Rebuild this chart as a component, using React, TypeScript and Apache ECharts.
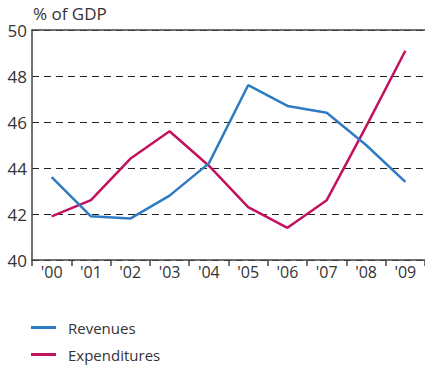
import React, { useEffect, useRef } from "react";
import * as echarts from "echarts";

const categories = ["'00", "'01", "'02", "'03", "'04", "'05", "'06", "'07", "'08", "'09"];
const revenues = [43.6, 41.9, 41.8, 42.8, 44.2, 47.6, 46.7, 46.4, 45.0, 43.4];
const expenditures = [41.9, 42.6, 44.4, 45.6, 44.1, 42.3, 41.4, 42.6, 45.8, 49.1];
const yTitle = "% of GDP";

const FONT = "'Open Sans', 'Noto Sans', sans-serif";
const TEXT = "#333";
const AXIS = "#444";

const legendBase = {
  orient: "vertical",
  left: 31,
  padding: 0,
  icon: "rect",
  itemWidth: 25,
  itemHeight: 3,
  textStyle: { fontFamily: FONT, fontSize: 15, color: TEXT, padding: [0, 0, 0, 7] },
};

export default function App() {
  const ref = useRef<HTMLDivElement>(null);
  useEffect(() => {
    const chart = echarts.init(ref.current!, null, { renderer: "svg" });
    chart.setOption({
      animation: false,
      textStyle: { fontFamily: FONT },
      grid: { left: 32, right: -2, top: 30, bottom: 105, containLabel: false },
      legend: [
        { ...legendBase, top: 320, data: ["Revenues"] },
        { ...legendBase, top: 347, data: ["Expenditures"] },
      ],
      graphic: [
        {
          type: "text",
          left: 33,
          top: 5,
          style: { text: yTitle, font: `17px ${FONT}`, fill: TEXT },
        },
      ],
      xAxis: [
        {
          type: "category",
          data: categories,
          boundaryGap: true,
          axisLine: { show: true, lineStyle: { color: AXIS, width: 1.5 } },
          axisTick: { show: true, length: 6, lineStyle: { color: AXIS, width: 1.5 } },
          axisLabel: { color: TEXT, fontSize: 16, fontFamily: FONT, margin: 4 },
          splitLine: { show: false },
        },
        {
          type: "category",
          data: categories,
          position: "top",
          axisLine: { show: true, lineStyle: { color: AXIS, width: 1.5 } },
          axisTick: { show: false },
          axisLabel: { show: false },
          splitLine: { show: false },
        },
      ],
      yAxis: {
        type: "value",
        min: 40,
        max: 50,
        interval: 2,
        axisLine: { show: true, lineStyle: { color: AXIS, width: 1.5 } },
        axisTick: { show: false },
        axisLabel: { color: TEXT, fontSize: 17, fontFamily: FONT, margin: 5 },
        splitLine: { show: true, lineStyle: { color: "#222", width: 1, type: [7, 5] } },
      },
      series: [
        {
          name: "Revenues",
          type: "line",
          data: revenues,
          symbol: "none",
          color: "#2f7bc3",
          lineStyle: { width: 2.5, color: "#2f7bc3" },
          z: 3,
        },
        {
          name: "Expenditures",
          type: "line",
          data: expenditures,
          symbol: "none",
          color: "#c2125e",
          lineStyle: { width: 2.5, color: "#c2125e" },
          z: 2,
        },
      ],
    });
    return () => chart.dispose();
  }, []);
  return <div ref={ref} style={{ width: 425, height: 365, position: "absolute", left: 0, top: 0 }} />;
}
